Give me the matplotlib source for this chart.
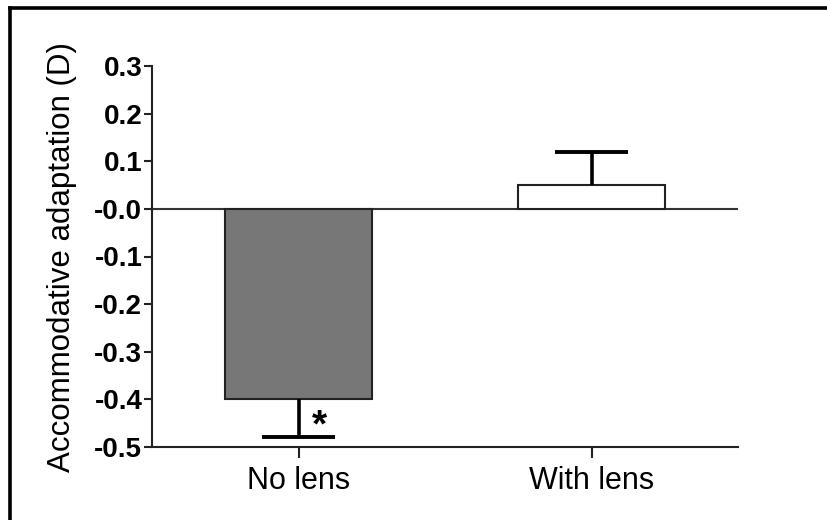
import matplotlib
matplotlib.use("Agg")
import matplotlib.pyplot as plt
from matplotlib.lines import Line2D

categories = ["No lens", "With lens"]
means = [-0.40, 0.05]
errors = [0.078, 0.07]
bar_colors = ["#777777", "#ffffff"]
ytick_values = [0.3, 0.2, 0.1, 0.0, -0.1, -0.2, -0.3, -0.4, -0.5]
ytick_labels = ["0.3", "0.2", "0.1", "-0.0", "-0.1", "-0.2", "-0.3", "-0.4", "-0.5"]

plt.rcParams['font.family'] = ['Liberation Sans', 'DejaVu Sans']

fig = plt.figure(figsize=(8.27, 5.2), dpi=100)
ax = fig.add_axes([152/827, 1-447/520, (738-152)/827, (447-66)/520])

x = list(range(len(categories)))
ax.bar(x, means, width=0.5, color=bar_colors, edgecolor="#222222", linewidth=1.5, zorder=2)

# one-sided error bars
cap_half = 0.125
for xi, m, e in zip(x, means, errors):
    end = m - e if m < 0 else m + e
    ax.plot([xi, xi], [m, end], color="black", lw=2.6, solid_capstyle="butt", zorder=3)
    ax.plot([xi - cap_half, xi + cap_half], [end, end], color="black", lw=2.8,
            solid_capstyle="butt", zorder=3)

ax.axhline(0, color="#333333", lw=1.5, zorder=1)

ax.text(x[0] + 0.07, -0.457, "*", fontsize=28, fontweight="bold",
        ha="center", va="center")

ax.set_xlim(-0.5, 1.5)
ax.set_ylim(-0.5, 0.3)
ax.set_yticks(ytick_values)
ax.set_yticklabels(ytick_labels, fontsize=20, fontweight="bold")
ax.set_xticks(x)
ax.set_xticklabels(categories, fontsize=22)
ax.tick_params(axis="y", length=6, width=1.5, color="#222222", pad=1)
ax.tick_params(axis="x", length=8, width=1.5, color="#222222", pad=6)

for s in ["top", "right"]:
    ax.spines[s].set_visible(False)
for s in ["left", "bottom"]:
    ax.spines[s].set_linewidth(1.5)
    ax.spines[s].set_color("#222222")

ax.set_ylabel("Accommodative adaptation (D)", fontsize=22.5)
ax.yaxis.set_label_coords(-0.128, 0.5)

# outer frame (left and top)
fig.add_artist(Line2D([9.5/827, 9.5/827], [0, 1-7.5/520], transform=fig.transFigure,
                      color="black", lw=2.6, solid_capstyle="projecting"))
fig.add_artist(Line2D([9.5/827, 1], [1-7.5/520, 1-7.5/520], transform=fig.transFigure,
                      color="black", lw=2.6, solid_capstyle="projecting"))

fig.savefig("out.png", dpi=100)
